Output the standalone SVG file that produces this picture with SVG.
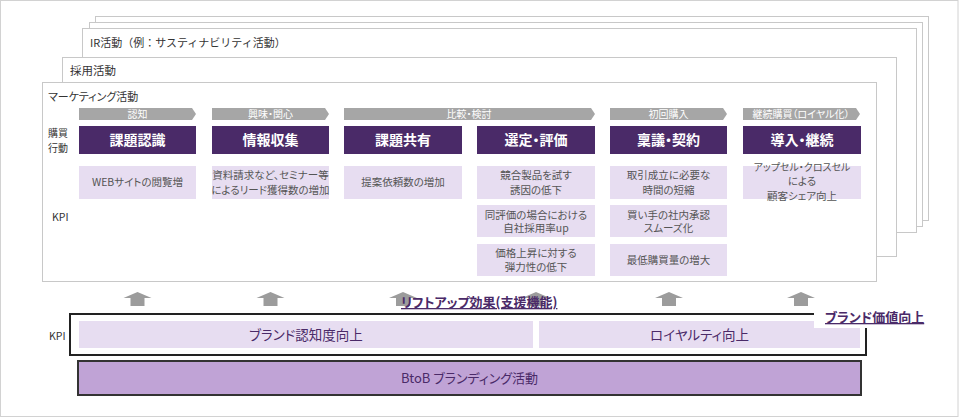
<svg xmlns="http://www.w3.org/2000/svg" width="960" height="419" viewBox="0 0 960 419">
<defs>
<style>
text{font-family:"Noto Sans CJK JP","Noto Sans",sans-serif;font-feature-settings:"palt";}
.sheet{fill:#fff;stroke:#c8c8c8;stroke-width:1;}
.sheetlbl{font-size:11.5px;fill:#333;}
.chev{fill:#a6a6a6;}
.chevt{font-size:10px;fill:#fff;text-anchor:middle;}
.dark{fill:#4a2a68;}
.darkt{font-size:14px;font-weight:bold;fill:#fff;text-anchor:middle;}
.kpi{fill:#e7ddf1;}
.kpit{font-size:10.5px;fill:#555;text-anchor:middle;}
.side{font-size:10.5px;fill:#333;}
.arr{fill:#9c9c9c;}
.big{font-size:13.5px;fill:#4a2a68;text-anchor:middle;}
.link{font-size:13px;font-weight:bold;fill:#4a2a68;text-decoration:underline;}
</style>
</defs>
<rect x="0.5" y="0.5" width="957.5" height="416" fill="#fff" stroke="#d2d2d2"/>
<g id="sheets">
<rect class="sheet" x="95.5" y="16.5" width="833" height="204"/>
<rect class="sheet" x="89.5" y="22.5" width="833" height="204"/>
<g id="sheet-ir"><rect class="sheet" x="82.5" y="28.5" width="834" height="204"/>
<text class="sheetlbl" x="90" y="46.5" style="font-size:11px;font-feature-settings:normal">IR活動（例：サスティナビリティ活動）</text></g>
<g id="sheet-recruit"><rect class="sheet" x="62.5" y="57.5" width="834" height="199"/>
<text class="sheetlbl" x="70" y="75">採用活動</text></g>
<g id="sheet-marketing"><rect class="sheet" x="42.5" y="82.5" width="834" height="199"/>
<text class="sheetlbl" x="48" y="101" style="font-size:11px">マーケティング活動</text></g>
</g>
<g id="row-labels">
<text class="side" x="48" y="137" style="font-size:10px">購買</text>
<text class="side" x="48" y="151.5" style="font-size:10px">行動</text>
<text class="side" x="52" y="221">KPI</text>
<text class="side" x="49" y="340">KPI</text>
</g>
<g id="stages">
<g id="stage-1"><polygon class="chev" points="79,108 192,108 196,114 192,120 79,120"/><text class="chevt" x="137.5" y="118">認知</text></g>
<g id="stage-2"><polygon class="chev" points="212,108 325,108 329,114 325,120 212,120"/><text class="chevt" x="270.5" y="118">興味・関心</text></g>
<g id="stage-3"><polygon class="chev" points="344,108 591,108 595,114 591,120 344,120"/><text class="chevt" x="469" y="118">比較・検討</text></g>
<g id="stage-4"><polygon class="chev" points="610,108 723,108 727,114 723,120 610,120"/><text class="chevt" x="668.5" y="118">初回購入</text></g>
<g id="stage-5"><polygon class="chev" points="743,108 856,108 860,114 856,120 743,120"/><text class="chevt" x="801" y="118">継続購買（ロイヤル化）</text></g>
</g>
<g id="actions">
<g id="act-1"><rect class="dark" x="79" y="126" width="117" height="28"/><text class="darkt" x="137.5" y="145">課題認識</text></g>
<g id="act-2"><rect class="dark" x="212" y="126" width="117" height="28"/><text class="darkt" x="270.5" y="145">情報収集</text></g>
<g id="act-3"><rect class="dark" x="344" y="126" width="118" height="28"/><text class="darkt" x="403" y="145">課題共有</text></g>
<g id="act-4"><rect class="dark" x="477" y="126" width="118" height="28"/><text class="darkt" x="536" y="145">選定・評価</text></g>
<g id="act-5"><rect class="dark" x="610" y="126" width="117" height="28"/><text class="darkt" x="668.5" y="145">稟議・契約</text></g>
<g id="act-6"><rect class="dark" x="743" y="126" width="118" height="28"/><text class="darkt" x="802" y="145">導入・継続</text></g>
</g>
<g id="kpis">
<g id="kpi-1"><rect class="kpi" x="79" y="166" width="117" height="33"/><text class="kpit" x="137.5" y="186">WEBサイトの閲覧増</text></g>
<g id="kpi-2"><rect class="kpi" x="212" y="166" width="117" height="33"/><text class="kpit" x="270.5" y="178.5">資料請求など、セミナー等</text><text class="kpit" x="270.5" y="193.5">によるリード獲得数の増加</text></g>
<g id="kpi-3"><rect class="kpi" x="344" y="166" width="118" height="33"/><text class="kpit" x="403" y="186">提案依頼数の増加</text></g>
<g id="kpi-4a"><rect class="kpi" x="477" y="166" width="118" height="33"/><text class="kpit" x="536" y="178.5">競合製品を試す</text><text class="kpit" x="536" y="193.5">誘因の低下</text></g>
<g id="kpi-4b"><rect class="kpi" x="477" y="205" width="118" height="32"/><text class="kpit" x="536" y="218.5">同評価の場合における</text><text class="kpit" x="536" y="232">自社採用率up</text></g>
<g id="kpi-4c"><rect class="kpi" x="477" y="244" width="118" height="32"/><text class="kpit" x="536" y="257">価格上昇に対する</text><text class="kpit" x="536" y="271">弾力性の低下</text></g>
<g id="kpi-5a"><rect class="kpi" x="610" y="166" width="117" height="33"/><text class="kpit" x="668.5" y="178.5">取引成立に必要な</text><text class="kpit" x="668.5" y="193.5">時間の短縮</text></g>
<g id="kpi-5b"><rect class="kpi" x="610" y="205" width="117" height="32"/><text class="kpit" x="668.5" y="218.5">買い手の社内承認</text><text class="kpit" x="668.5" y="232">スムーズ化</text></g>
<g id="kpi-5c"><rect class="kpi" x="610" y="244" width="117" height="32"/><text class="kpit" x="668.5" y="264">最低購買量の増大</text></g>
<g id="kpi-6"><rect class="kpi" x="743" y="166" width="118" height="33"/><text class="kpit" x="802" y="171" style="font-size:10px">アップセル・クロスセル</text><text class="kpit" x="802" y="185">による</text><text class="kpit" x="802" y="199.5">顧客シェア向上</text></g>
</g>
<g id="connectors">
<path class="arr" d="M123.5,298 L137.5,292 L151.5,298 L144.5,298 L144.5,306 L130.5,306 L130.5,298 Z"/>
<path class="arr" d="M256.5,298 L270.5,292 L284.5,298 L277.5,298 L277.5,306 L263.5,306 L263.5,298 Z"/>
<path class="arr" d="M389,298 L403,292 L417,298 L410,298 L410,306 L396,306 L396,298 Z"/>
<path class="arr" d="M522,298 L536,292 L550,298 L543,298 L543,306 L529,306 L529,298 Z"/>
<path class="arr" d="M655,298 L669,292 L683,298 L676,298 L676,306 L662,306 L662,298 Z"/>
<path class="arr" d="M787,298 L801,292 L815,298 L808,298 L808,306 L794,306 L794,298 Z"/>
</g>
<g id="lift-label"><text class="link" x="401" y="307">リフトアップ効果(支援機能)</text></g>
<g id="brand-kpi">
<rect x="70" y="314" width="796" height="41" fill="#fff" stroke="#222" stroke-width="2"/>
<g id="kpi-awareness"><rect class="kpi" x="79" y="321" width="454" height="27"/><text class="big" x="306" y="339.5">ブランド認知度向上</text></g>
<g id="kpi-loyalty"><rect class="kpi" x="539" y="321" width="321" height="27"/><text class="big" x="699.5" y="339.5">ロイヤルティ向上</text></g>
</g>
<g id="brand-value"><rect x="814" y="303" width="116" height="25" fill="#fff"/><text class="link" x="825" y="322">ブランド価値向上</text></g>
<g id="btob"><rect x="78" y="361" width="783" height="34" fill="#c0a3d6" stroke="#333" stroke-width="2"/><text class="big" x="469.5" y="383" style="font-size:13px">BtoB ブランディング活動</text></g>
</svg>
